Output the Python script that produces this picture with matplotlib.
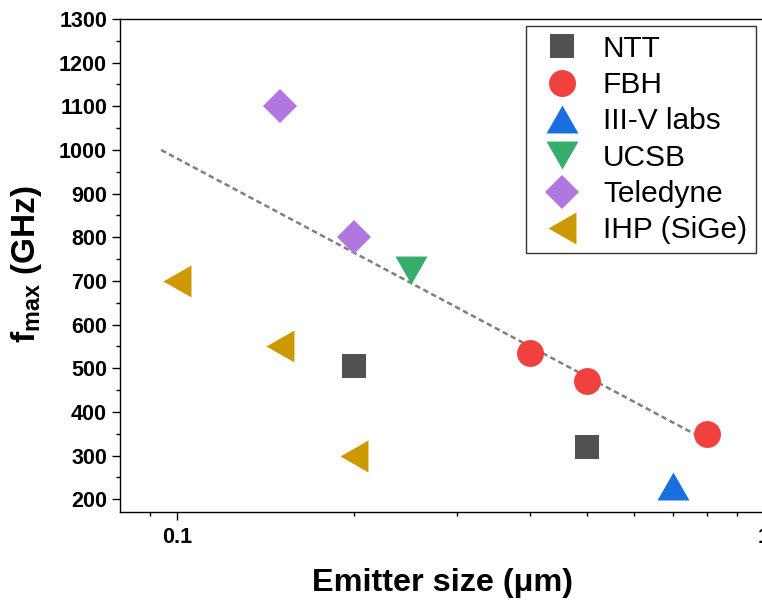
import matplotlib
matplotlib.use("Agg")
import matplotlib.pyplot as plt
from matplotlib.ticker import NullFormatter, FixedLocator

plt.rcParams["font.family"] = ["Liberation Sans", "DejaVu Sans"]
plt.rcParams["mathtext.fontset"] = "custom"
plt.rcParams["mathtext.rm"] = "Liberation Sans"
plt.rcParams["mathtext.bf"] = "Liberation Sans:bold"
plt.rcParams["mathtext.it"] = "Liberation Sans:italic"

# Emitter size (um) vs. fmax (GHz) for each group
ntt_x = [0.2, 0.5]
ntt_y = [505, 320]
fbh_x = [0.4, 0.5, 0.8]
fbh_y = [535, 470, 350]
iiiv_x = [0.7]
iiiv_y = [230]
ucsb_x = [0.25]
ucsb_y = [725]
teledyne_x = [0.15, 0.2]
teledyne_y = [1100, 800]
ihp_x = [0.1, 0.15, 0.2]
ihp_y = [700, 550, 300]

# guide line
trend_x = [0.094, 0.76]
trend_y = [1000, 350]

labels = ["NTT", "FBH", "III-V labs", "UCSB", "Teledyne", "IHP (SiGe)"]
colors = ["#515151", "#F14040", "#1A6FDF", "#37AD6B", "#B177DE", "#CC9900"]

tri_up = [(0, 0.875), (-1, -0.875), (1, -0.875)]
tri_down = [(0, -0.875), (-1, 0.875), (1, 0.875)]
tri_left = [(-0.875, 0), (0.875, 1), (0.875, -1)]

W, H = 762, 601
fig = plt.figure(figsize=(W / 100, H / 100), dpi=100)
ax_l, ax_r, ax_t, ax_b = 120, 764, 19, 512.3
ax = fig.add_axes([ax_l / W, 1 - ax_b / H, (ax_r - ax_l) / W, (ax_b - ax_t) / H])

ax.plot(trend_x, trend_y, color="#808080", lw=1.8, ls=(0, (2.2, 1.4)), zorder=2)

series = [
    (ntt_x, ntt_y, "s", 17.8),
    (fbh_x, fbh_y, "o", 19.4),
    (iiiv_x, iiiv_y, tri_up, 23),
    (ucsb_x, ucsb_y, tri_down, 23),
    (teledyne_x, teledyne_y, "D", 17.7),
    (ihp_x, ihp_y, tri_left, 23),
]
for (xs, ys, m, ms), lab, c in zip(series, labels, colors):
    ax.plot(xs, ys, ls="none", marker=m, ms=ms, color=c, mec=c, mew=0,
            label=lab, zorder=3)

ax.set_xscale("log")
ax.set_xlim(0.08, 1.0)
ax.set_ylim(170, 1300)

ax.xaxis.set_major_locator(FixedLocator([0.1, 1.0]))
ax.set_xticklabels(["0.1", "1"])
ax.xaxis.set_minor_locator(FixedLocator([0.09, 0.2, 0.3, 0.4, 0.5, 0.6, 0.7, 0.8, 0.9]))
ax.xaxis.set_minor_formatter(NullFormatter())
ax.yaxis.set_major_locator(FixedLocator(list(range(200, 1301, 100))))
ax.yaxis.set_minor_locator(FixedLocator(list(range(250, 1300, 100))))

ax.tick_params(which="major", direction="out", length=5.8, width=1.0,
               labelsize=15.5, top=False, right=False)
ax.tick_params(axis="y", which="major", pad=3.5)
ax.tick_params(axis="x", which="major", pad=5.0)
ax.tick_params(which="minor", direction="out", length=3.2, width=1.0,
               top=False, right=False)
for lbl in ax.get_xticklabels() + ax.get_yticklabels():
    lbl.set_fontweight("bold")

for sp in ax.spines.values():
    sp.set_linewidth(1.0)
    sp.set_color("black")

ax.set_xlabel("Emitter size (μm)", fontsize=23.3, fontweight="bold")
ax.xaxis.set_label_coords(0.5, -0.113)
ax.xaxis.label.set_va("top")
ax.set_ylabel(r"$\mathbf{f_{max}}$ (GHz)", fontsize=24, fontweight="bold")
ax.yaxis.set_label_coords((27 - ax_l) / (ax_r - ax_l), 0.503)
ax.yaxis.label.set_va("center")

leg = ax.legend(loc="upper right",
                bbox_to_anchor=((756 - ax_l) / (ax_r - ax_l), (ax_b - 25.7) / (ax_b - ax_t)),
                borderaxespad=0, fontsize=21.5, frameon=True, fancybox=False,
                framealpha=1, edgecolor="#333333", numpoints=1,
                borderpad=0.3, handlelength=1.87, handletextpad=0.42,
                labelspacing=0.28)
leg.get_frame().set_linewidth(1.0)

fig.savefig("out.png", dpi=100)
